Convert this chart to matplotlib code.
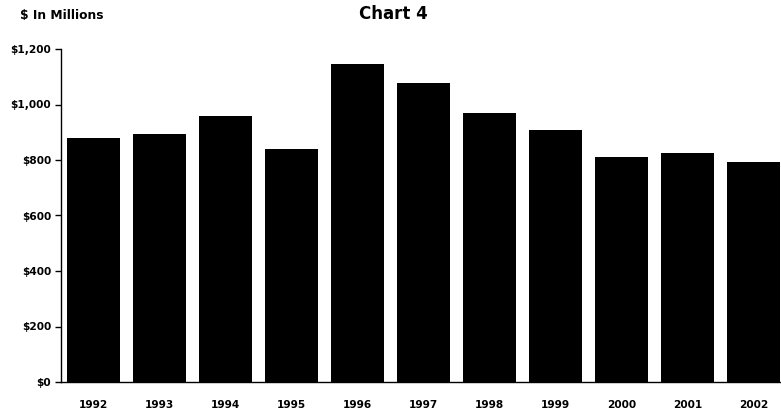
import matplotlib
matplotlib.use("Agg")
import matplotlib.pyplot as plt
from matplotlib.ticker import FuncFormatter

# Datos (millones de dolares)
years = ["1992", "1993", "1994", "1995", "1996", "1997",
         "1998", "1999", "2000", "2001", "2002"]
values = [880, 892, 960, 841, 1146, 1076, 969, 908, 810, 824, 793]
y_ticks = [0, 200, 400, 600, 800, 1000, 1200]

plt.rcParams["font.family"] = ["DejaVu Sans"]
plt.rcParams["font.weight"] = "bold"

fig = plt.figure(figsize=(7.81, 4.12), dpi=100)
ax = fig.add_axes([61 / 781, 1 - 382 / 412, 1 - 61 / 781, (382 - 49) / 412])

ax.bar(range(len(years)), values, width=0.8, color="black")

ax.set_xlim(-0.49, 10.41)
ax.set_ylim(0, 1200)
ax.set_yticks(y_ticks)
ax.yaxis.set_major_formatter(FuncFormatter(lambda v, p: f"${v:,.0f}"))
ax.set_xticks(range(len(years)))
ax.set_xticklabels(years)

ax.spines["top"].set_visible(False)
ax.spines["right"].set_visible(False)
ax.spines["left"].set_linewidth(1.0)
ax.spines["bottom"].set_linewidth(1.0)
ax.tick_params(axis="y", length=4, width=1.0, labelsize=7.6, pad=3)
ax.tick_params(axis="x", length=0, labelsize=7.6, pad=13)
for lbl in ax.get_xticklabels() + ax.get_yticklabels():
    lbl.set_fontweight("bold")

fig.text(393 / 781, 1 - 14 / 412, "Chart 4", ha="center", va="center",
         fontsize=12, fontweight="bold")
fig.text(20 / 781, 1 - 16 / 412, "$ In Millions", ha="left", va="center",
         fontsize=8.8, fontweight="bold")

fig.savefig("out.png", dpi=100)
